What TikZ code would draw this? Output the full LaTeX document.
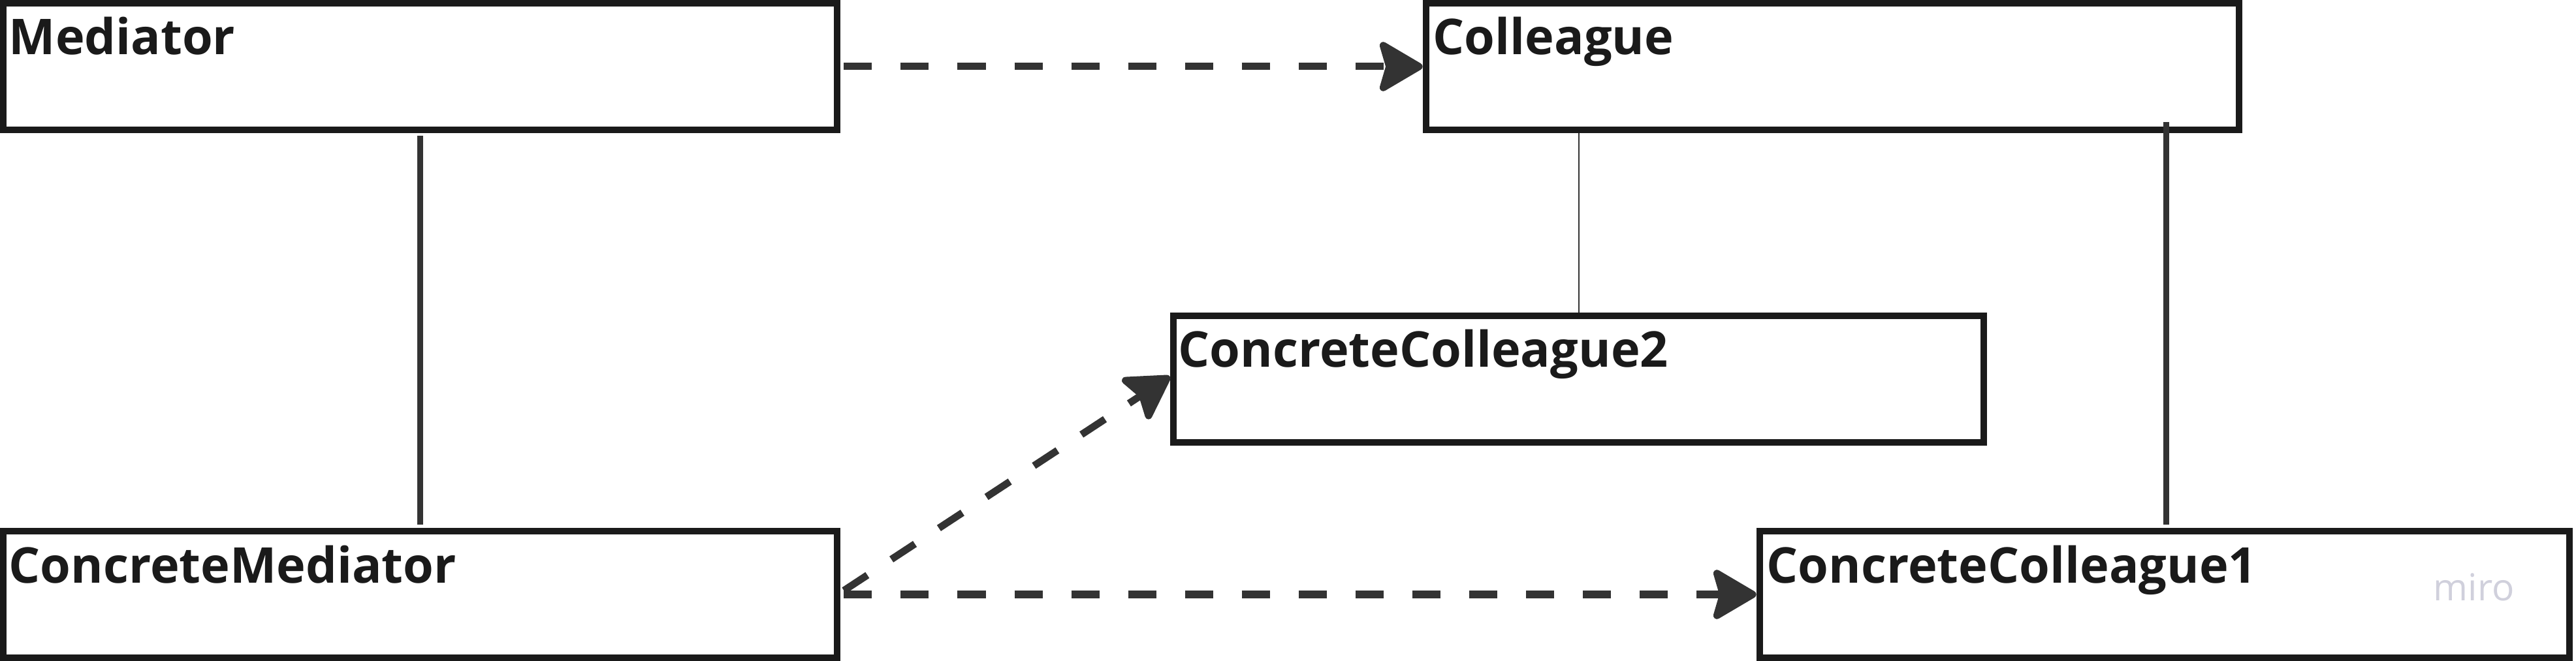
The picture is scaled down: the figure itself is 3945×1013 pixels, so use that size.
\documentclass[tikz,border=0pt]{standalone}
\usepackage{fontspec}
\setmainfont{Open Sans}
\usetikzlibrary{arrows.meta,calc}
\definecolor{boxline}{HTML}{1A1A1A}
\definecolor{conn}{HTML}{333333}
\definecolor{miroc}{HTML}{D0D0DC}
\tikzset{
  umlbox/.style={draw=boxline, line width=0.1cm, fill=white, inner sep=0pt, minimum height=1.94cm},
  lbl/.style={inner sep=0pt, anchor=base west, text=boxline, font=\fontsize{21.5pt}{26pt}\selectfont\bfseries},
  mirolbl/.style={inner sep=0pt, anchor=base west, text=miroc, font=\fontsize{16.2pt}{19pt}\selectfont},
  dasharrow/.style={draw=conn, line width=0.11cm, dash pattern=on 0.43cm off 0.44cm,
    -{Stealth[length=0.74cm, width=0.86cm, inset=0.12cm, round]}},
  thickline/.style={draw=conn, line width=0.09cm},
  thinline/.style={draw=conn, line width=0.02cm}
}
\begin{document}
\begin{tikzpicture}[x={(0.01cm,0)}, y={(0,-0.01cm)}]
\useasboundingbox (0,0) rectangle (3945,1013);
% free ends of the plain lines
\coordinate (c1top) at (643,208);
\coordinate (c1bot) at (643,804);
\coordinate (c2top) at (3317,187);
\coordinate (c2bot) at (3317,804);
% boxes
\node[umlbox, minimum width=12.77cm] (med) at (643.5,102) {};
\node[umlbox, minimum width=12.45cm] (col) at (2806.5,102) {};
\node[umlbox, minimum width=12.41cm] (cc2) at (2417.5,581) {};
\node[umlbox, minimum width=12.77cm] (cm) at (643.5,911) {};
\node[umlbox, minimum width=12.40cm] (cc1) at (3315,911) {};
% labels
\node[lbl] (medt) at (13,84) {Mediator};
\node[lbl] (colt) at (2194,84) {Colleague};
\node[lbl] (cc2t) at (1804,563) {ConcreteColleague2};
\node[lbl] (cmt) at (13,893) {ConcreteMediator};
\node[lbl] (cc1t) at (2705,893) {ConcreteColleague1};
\node[mirolbl] (miro) at (3726,920) {miro};
% plain lines
\draw[thickline] (c1top) -- (c1bot);
\draw[thickline] (c2top) -- (c2bot);
\draw[thinline] (col.south -| cc2.north) -- (cc2.north);
% dashed arrows
\draw[dasharrow] ($(med.east)+(5,0)$) -- (col.west);
\draw[dasharrow] ($(cm.east)+(5,0)$) -- (cc1.west);
\draw[dasharrow] ($(cm.east)+(5,-6)$) -- ($(cc2.west)+(0,-4)$);
\end{tikzpicture}
\end{document}
